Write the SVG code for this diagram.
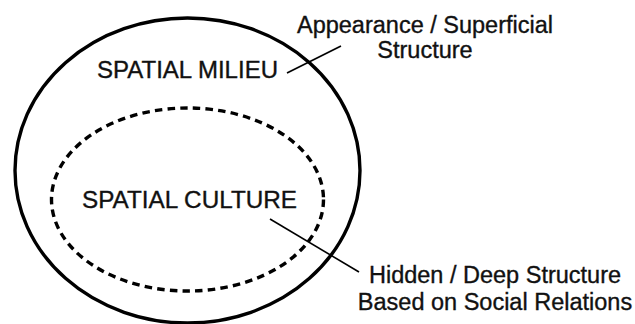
<svg xmlns="http://www.w3.org/2000/svg" width="635" height="324" viewBox="0 0 635 324">
  <style>
    .bg { fill: #ffffff; }
    .outer { fill: none; stroke: #000; stroke-width: 3.4; }
    .inner { fill: none; stroke: #000; stroke-width: 3.4; stroke-dasharray: 7.5 5.2; }
    .leader { fill: none; stroke: #000; stroke-width: 1.6; }
    .label { font-family: "Liberation Sans", Arial, sans-serif; font-size: 23.5px; fill: #111; stroke: #111; stroke-width: 0.35; }
    .mid { text-anchor: middle; }
  </style>
  <rect class="bg" x="0" y="0" width="635" height="324"/>

  <g id="spatial-milieu">
    <ellipse class="outer" cx="187.5" cy="170.5" rx="172.5" ry="152.5"/>
    <text class="label" x="97" y="78" textLength="181" lengthAdjust="spacingAndGlyphs">SPATIAL MILIEU</text>
  </g>

  <g id="spatial-culture">
    <ellipse class="inner" cx="187.5" cy="199.5" rx="136" ry="91.5"/>
    <text class="label" x="82" y="208" textLength="215" lengthAdjust="spacingAndGlyphs">SPATIAL CULTURE</text>
  </g>

  <g id="appearance-note">
    <text class="label mid" x="425" y="33">Appearance / Superficial</text>
    <text class="label mid" x="425" y="58">Structure</text>
  </g>

  <g id="hidden-note">
    <text class="label mid" x="495" y="283">Hidden / Deep Structure</text>
    <text class="label mid" x="495" y="310">Based on Social Relations</text>
  </g>

  <g id="connectors">
    <line class="leader" x1="287" y1="73" x2="341" y2="46"/>
    <line class="leader" x1="270" y1="219" x2="359" y2="272"/>
  </g>
</svg>
